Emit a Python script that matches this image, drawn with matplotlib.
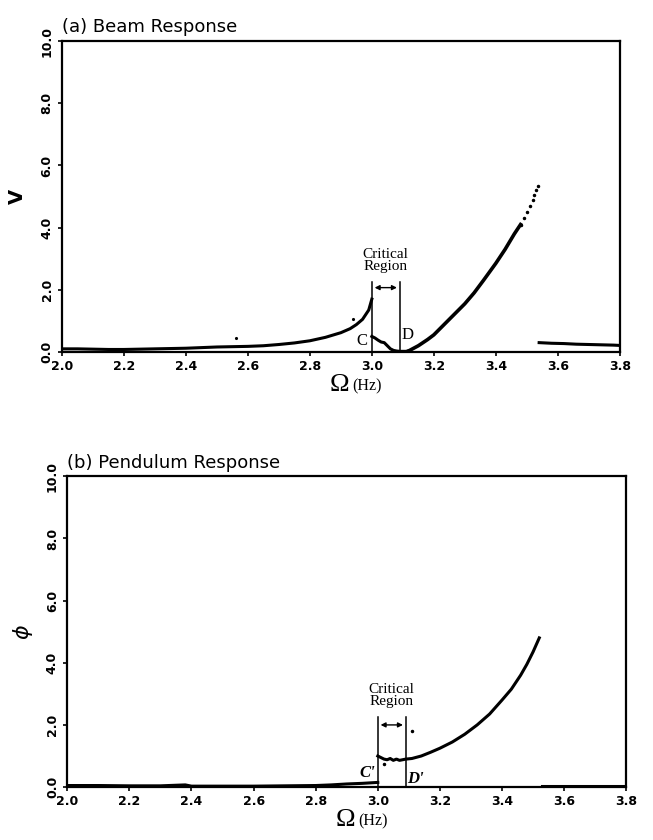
import matplotlib
matplotlib.use('Agg')
import matplotlib.pyplot as plt

# ---- data ----
# (a) beam response V
beam_low_x = [2.00, 2.05, 2.10, 2.15, 2.20, 2.25, 2.30, 2.35, 2.40, 2.45, 2.50, 2.55, 2.60,
              2.65, 2.70, 2.75, 2.80, 2.85, 2.90, 2.93, 2.95, 2.97, 2.99, 3.00]
beam_low_y = [0.10, 0.10, 0.09, 0.08, 0.08, 0.09, 0.10, 0.11, 0.12, 0.14, 0.16, 0.17, 0.18,
              0.20, 0.24, 0.29, 0.36, 0.47, 0.62, 0.75, 0.88, 1.05, 1.35, 1.70]
beam_mid_x = [3.00, 3.01, 3.02, 3.03, 3.04, 3.05, 3.06, 3.07, 3.08, 3.09, 3.10, 3.11, 3.12]
beam_mid_y = [0.50, 0.45, 0.38, 0.32, 0.30, 0.20, 0.10, 0.05, 0.03, 0.02, 0.02, 0.02, 0.04]
beam_up_x = [3.12, 3.15, 3.18, 3.20, 3.23, 3.26, 3.30, 3.33, 3.36, 3.40, 3.43, 3.46, 3.48]
beam_up_y = [0.04, 0.20, 0.40, 0.55, 0.85, 1.15, 1.55, 1.90, 2.30, 2.85, 3.30, 3.80, 4.10]
beam_dot_x = [3.48, 3.49, 3.50, 3.51, 3.52, 3.525, 3.53, 3.535]
beam_dot_y = [4.10, 4.30, 4.50, 4.70, 4.90, 5.05, 5.20, 5.35]
beam_tail_x = [3.54, 3.58, 3.62, 3.66, 3.70, 3.74, 3.78, 3.80]
beam_tail_y = [0.30, 0.28, 0.27, 0.25, 0.24, 0.23, 0.22, 0.21]
beam_stray_x = [2.56, 2.94]
beam_stray_y = [0.45, 1.05]

# (b) pendulum response phi
pend_low_x = [2.00, 2.10, 2.20, 2.30, 2.38, 2.40, 2.50, 2.60, 2.70, 2.80, 2.85, 2.90, 2.95, 3.00]
pend_low_y = [0.05, 0.05, 0.04, 0.04, 0.07, 0.03, 0.03, 0.03, 0.04, 0.05, 0.07, 0.10, 0.12, 0.15]
pend_up_x = [3.00, 3.01, 3.02, 3.03, 3.04, 3.05, 3.06, 3.07, 3.08, 3.09, 3.11, 3.14, 3.17, 3.20,
             3.24, 3.28, 3.32, 3.36, 3.40, 3.43, 3.46, 3.48, 3.50, 3.52]
pend_up_y = [1.00, 0.95, 0.90, 0.88, 0.92, 0.86, 0.90, 0.86, 0.88, 0.90, 0.92, 1.00, 1.12, 1.25,
             1.45, 1.70, 2.00, 2.35, 2.80, 3.15, 3.60, 3.95, 4.35, 4.80]
pend_tail_x = [3.53, 3.60, 3.70, 3.80]
pend_tail_y = [0.02, 0.02, 0.02, 0.02]
pend_stray_x = [3.11, 3.02]
pend_stray_y = [1.80, 0.75]

xticks = [2.0, 2.2, 2.4, 2.6, 2.8, 3.0, 3.2, 3.4, 3.6, 3.8]
yticks = [0.0, 2.0, 4.0, 6.0, 8.0, 10.0]
crit_lo, crit_hi = 3.0, 3.09

SERIF = 'Liberation Serif'

fig = plt.figure(figsize=(6.53, 8.4), dpi=100)
ax1 = fig.add_axes([0.095, 0.581, 0.854, 0.370])
ax2 = fig.add_axes([0.103, 0.063, 0.856, 0.370])


def style_axes(ax):
    ax.set_xlim(2.0, 3.8)
    ax.set_ylim(0.0, 10.0)
    ax.set_xticks(xticks)
    ax.set_xticklabels([f'{t:.1f}' for t in xticks], fontweight='bold', fontsize=9)
    ax.set_yticks(yticks)
    ax.set_yticklabels([f'{t:.1f}' for t in yticks], fontweight='bold', fontsize=9,
                       rotation=90, va='center')
    ax.tick_params(direction='out', length=3, width=1.2, pad=3)
    for s in ax.spines.values():
        s.set_linewidth(1.6)
    # Omega (Hz) label
    ax.text(0.515, -0.07, 'Ω', transform=ax.transAxes, ha='right', va='top',
            fontsize=19, family=SERIF)
    ax.text(0.52, -0.085, '(Hz)', transform=ax.transAxes, ha='left', va='top',
            fontsize=11.5, family=SERIF)


def critical_region(ax, top, arrow_y):
    ax.plot([crit_lo, crit_lo], [0, top], color='black', lw=1.1)
    ax.plot([crit_hi, crit_hi], [0, top], color='black', lw=1.1)
    ax.annotate('', xy=(crit_lo, arrow_y), xytext=(crit_hi, arrow_y),
                arrowprops=dict(arrowstyle='<|-|>', color='black', lw=1.0,
                                mutation_scale=7))
    ax.text((crit_lo + crit_hi) / 2, top + 0.3, 'Critical\nRegion', ha='center', va='bottom',
            fontsize=11, family=SERIF, linespacing=0.85)


# ---- (a) Beam response ----
style_axes(ax1)
ax1.plot(beam_low_x, beam_low_y, color='black', lw=2.2)
ax1.plot(beam_mid_x, beam_mid_y, color='black', lw=2.2)
ax1.plot(beam_up_x, beam_up_y, color='black', lw=2.6)
ax1.plot(beam_dot_x, beam_dot_y, color='black', lw=0, marker='.', ms=3)
ax1.plot(beam_tail_x, beam_tail_y, color='black', lw=2.2)
ax1.plot(beam_stray_x, beam_stray_y, color='black', lw=0, marker='.', ms=2.5)
critical_region(ax1, 2.25, 2.07)
ax1.text(2.985, 0.35, 'C', ha='right', va='center', fontsize=12, family=SERIF)
ax1.text(3.095, 0.55, 'D', ha='left', va='center', fontsize=12, family=SERIF)
ax1.set_ylabel('V', fontsize=14, fontweight='bold', labelpad=10)
ax1.text(0.0, 1.015, '(a) Beam Response', transform=ax1.transAxes, ha='left', va='bottom',
         fontsize=13)

# ---- (b) Pendulum response ----
style_axes(ax2)
ax2.plot(pend_low_x, pend_low_y, color='black', lw=2.2)
ax2.plot(pend_up_x, pend_up_y, color='black', lw=2.2)
ax2.plot(pend_tail_x, pend_tail_y, color='black', lw=2.2)
ax2.plot(pend_stray_x, pend_stray_y, color='black', lw=0, marker='.', ms=3)
critical_region(ax2, 2.25, 2.0)
ax2.text(2.99, 0.45, "C'", ha='right', va='center', fontsize=12, family=SERIF,
         style='italic', fontweight='bold')
ax2.text(3.095, 0.25, "D'", ha='left', va='center', fontsize=12, family=SERIF,
         style='italic', fontweight='bold')
ax2.set_ylabel(r'$\phi$', fontsize=16, labelpad=8)
ax2.text(0.0, 1.015, '(b) Pendulum Response', transform=ax2.transAxes, ha='left',
         va='bottom', fontsize=13)

fig.savefig('out.png', dpi=100)
